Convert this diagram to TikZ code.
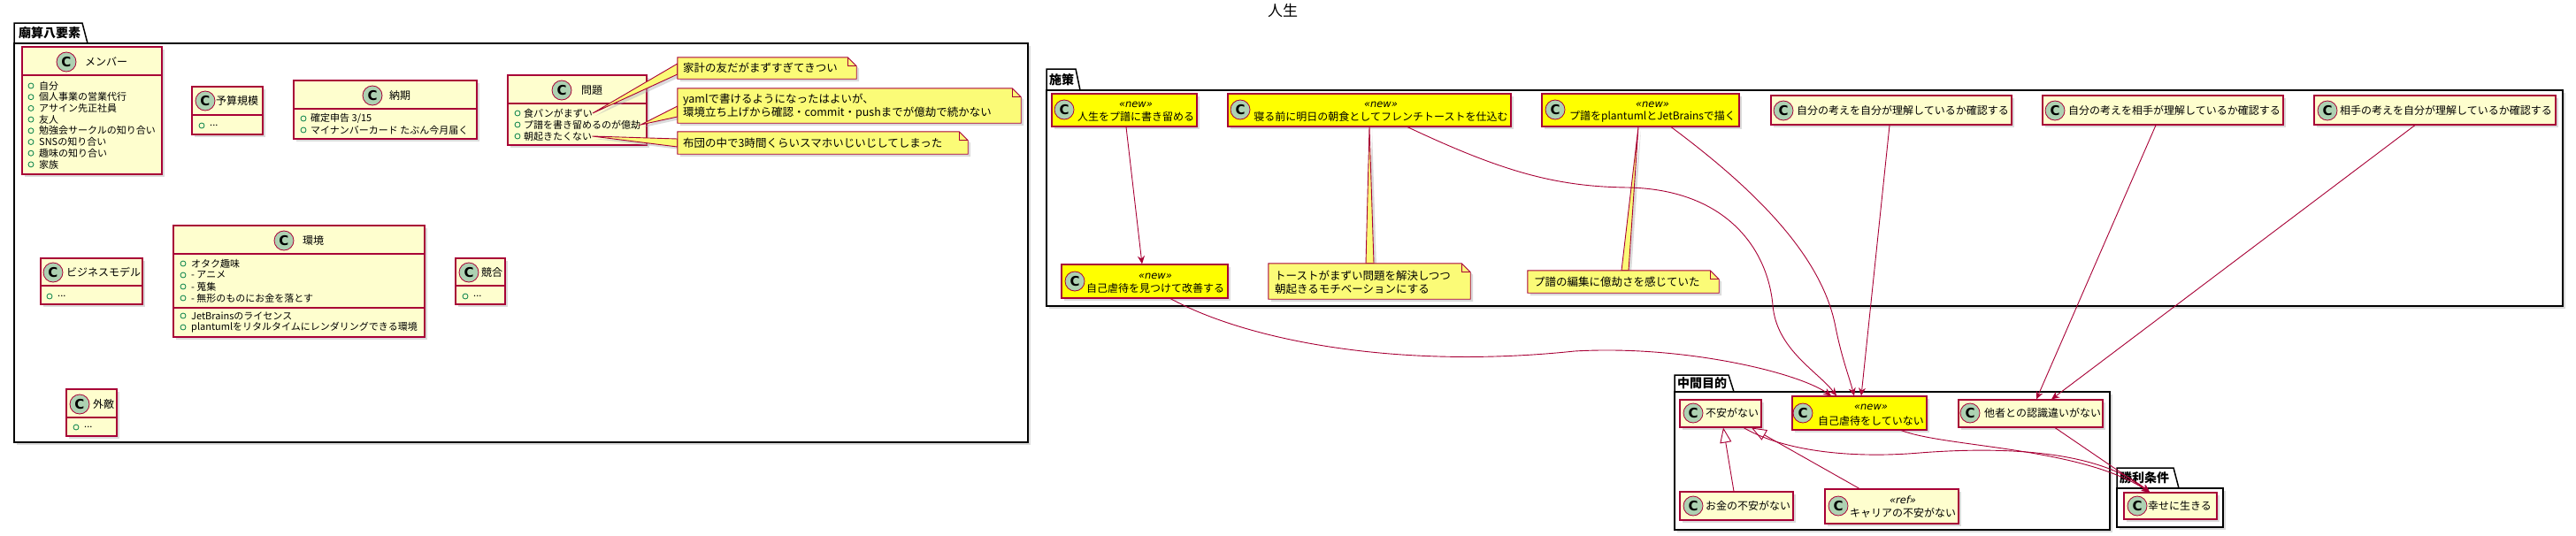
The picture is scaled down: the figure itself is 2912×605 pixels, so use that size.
\documentclass[tikz,border=0pt]{standalone}
\usepackage{fontspec}
\setmainfont{Noto Sans CJK JP}
\newfontfamily\glyphfont{DejaVu Sans}
\usetikzlibrary{arrows.meta,fit,shadows}
\definecolor{bdr}{HTML}{A80036}
\definecolor{clsfill}{HTML}{FEFECE}
\definecolor{cifill}{HTML}{ADD1B2}
\definecolor{notefill}{HTML}{FBFB77}
\definecolor{itemgreen}{HTML}{038048}
\definecolor{hl}{HTML}{FFFF00}
\tikzset{
  shad/.style={drop shadow={shadow xshift=3pt,shadow yshift=-3pt,fill=black!28}},
  cls/.style={draw=bdr,line width=1.1pt,fill=clsfill,inner sep=0pt,shad},
  hlcls/.style={cls,fill=hl},
  sep/.style={draw=bdr,line width=1.1pt},
  cicon/.style={circle,draw=bdr,fill=cifill,line width=0.8pt,minimum size=22pt,inner sep=0pt,font=\glyphfont\bfseries\fontsize{15}{15}\selectfont},
  cname/.style={anchor=west,inner sep=0pt,font=\fontsize{12}{12}\selectfont},
  cnamec/.style={inner sep=0pt,font=\fontsize{12}{12}\selectfont},
  ster/.style={inner sep=0pt,font=\glyphfont\itshape\fontsize{11.5}{11.5}\selectfont},
  itemtxt/.style={anchor=west,inner sep=0pt,font=\fontsize{11}{11}\selectfont},
  itemdot/.style={draw=itemgreen,line width=0.8pt},
  notetxt/.style={anchor=west,inner sep=0pt,align=left,font=\fontsize{12.5}{15}\selectfont},
  notebody/.style={draw=bdr,line width=0.9pt,fill=notefill},
  pkgbody/.style={draw=black,line width=1.5pt,fill=white,inner sep=0pt,shad},
  pkgtab/.style={draw=black,line width=1.5pt,fill=white},
  pkgtxt/.style={anchor=west,inner sep=0pt,font=\bfseries\fontsize{14}{14}\selectfont},
  arr/.style={draw=bdr,line width=0.9pt,-{Stealth[length=9pt,width=8pt,inset=3pt]}},
  gen/.style={draw=bdr,line width=0.9pt,-{Triangle[open,length=17pt,width=13pt,fill=white]}},
}
\newcommand\oneitem[5]{%
  \draw[itemdot] (#2,#4) circle[radius=3pt];
  \node[itemtxt] (#1) at (#3,#4) {#5};}
\newcommand\notenode[5]{\node[inner sep=0pt,fit={(#2,#3) (#4,#5)}] (#1) {};}
\newcommand\notedraw[1]{%
  \filldraw[notebody,shad] (#1.north west) -- ([xshift=-10pt]#1.north east) -- ([yshift=-10pt]#1.north east) -- (#1.south east) -- (#1.south west) -- cycle;
  \draw[notebody,fill=none] ([xshift=-10pt]#1.north east) -- ([xshift=-10pt,yshift=-10pt]#1.north east) -- ([yshift=-10pt]#1.north east);}
\begin{document}
\begin{tikzpicture}[x=1pt,y=-1pt]
\useasboundingbox (0,0) rectangle (2912,605);
\node[font=\fontsize{17}{17}\selectfont,inner sep=0pt] (title) at (1450,12) {人生};

% ---------- packages ----------
\filldraw[pkgtab] (16,49) -- (16,26) -- (93,26) -- (99,49);
\node[pkgbody,fit={(16,49) (1162,500)}] (pkgA) {};
\node[pkgtxt] (pkgA-l) at (21,37.5) {廟算八要素};

\filldraw[pkgtab] (1183,102) -- (1183,78) -- (1216,78) -- (1221,102);
\node[pkgbody,fit={(1183,102) (2897,346)}] (pkgB) {};
\node[pkgtxt] (pkgB-l) at (1186,90) {施策};

\filldraw[pkgtab] (1893,443) -- (1893,424) -- (1954,424) -- (1960,443);
\node[pkgbody,fit={(1893,443) (2385,599)}] (pkgC) {};
\node[pkgtxt] (pkgC-l) at (1896,433.5) {中間目的};

\filldraw[pkgtab] (2393,552) -- (2393,529) -- (2457,529) -- (2463,552);
\node[pkgbody,fit={(2393,552) (2513,596)}] (pkgD) {};
\node[pkgtxt] (pkgD-l) at (2396,540.5) {勝利条件};

% ---------- 廟算八要素 classes ----------
\node[cls,fit={(25,53) (183,197)}] (member) {};
\draw[sep] (25,85) -- (183,85);
\node[cicon] (member-c) at (75,70) {C};
\node[cname] (member-n) at (96,70) {メンバー};
\oneitem{member-0}{35}{44}{97}{自分}
\oneitem{member-1}{35}{44}{109.7}{個人事業の営業代行}
\oneitem{member-2}{35}{44}{122.4}{アサイン先正社員}
\oneitem{member-3}{35}{44}{135.1}{友人}
\oneitem{member-4}{35}{44}{147.8}{勉強会サークルの知り合い}
\oneitem{member-5}{35}{44}{160.5}{SNSの知り合い}
\oneitem{member-6}{35}{44}{173.2}{趣味の知り合い}
\oneitem{member-7}{35}{44}{185.9}{家族}

\node[cls,fit={(217,98) (297,152)}] (budget) {};
\draw[sep] (217,130) -- (297,130);
\node[cicon] (budget-c) at (232,114) {C};
\node[cname] (budget-n) at (244,114) {予算規模};
\oneitem{budget-0}{228}{237}{142}{...}

\node[cls,fit={(332,91) (539,157)}] (deliv) {};
\draw[sep] (332,123) -- (539,123);
\node[cicon] (deliv-c) at (421,108) {C};
\node[cname] (deliv-n) at (440,108) {納期};
\oneitem{deliv-0}{343}{351}{134}{確定申告 3/15}
\oneitem{deliv-1}{343}{351}{147}{マイナンバーカード たぶん今月届く}

\node[cls,fit={(574,85) (731,164)}] (prob) {};
\draw[sep] (574,117) -- (731,117);
\node[cicon] (prob-c) at (635,102) {C};
\node[cname] (prob-n) at (657,102) {問題};
\oneitem{prob-0}{585}{592}{128}{食パンがまずい}
\oneitem{prob-1}{585}{592}{141}{プ譜を書き留めるのが億劫}
\oneitem{prob-2}{585}{592}{154}{朝起きたくない}

\node[cls,fit={(46,292) (161,344)}] (biz) {};
\draw[sep] (46,323) -- (161,323);
\node[cicon] (biz-c) at (60,308) {C};
\node[cname] (biz-n) at (75,308) {ビジネスモデル};
\oneitem{biz-0}{56}{65}{335}{...}

\node[cls,fit={(196,255) (480,381)}] (env) {};
\draw[sep] (196,287) -- (480,287);
\draw[sep] (196,348) -- (480,348);
\node[cicon] (env-c) at (321,272) {C};
\node[cname] (env-n) at (342,272) {環境};
\oneitem{env-0}{207}{216}{298}{オタク趣味}
\oneitem{env-1}{207}{216}{311}{- アニメ}
\oneitem{env-2}{207}{216}{324}{- 蒐集}
\oneitem{env-3}{207}{216}{337}{- 無形のものにお金を落とす}
\oneitem{env-4}{207}{216}{357}{JetBrainsのライセンス}
\oneitem{env-5}{207}{216}{370}{plantumlをリタルタイムにレンダリングできる環境}

\node[cls,fit={(515,292) (571,344)}] (comp) {};
\draw[sep] (515,323) -- (571,323);
\node[cicon] (comp-c) at (530,308) {C};
\node[cname] (comp-n) at (544,308) {競合};
\oneitem{comp-0}{526}{535}{335}{...}

\node[cls,fit={(75,440) (132,493)}] (enemy) {};
\draw[sep] (75,472) -- (132,472);
\node[cicon] (enemy-c) at (90,457) {C};
\node[cname] (enemy-n) at (105,457) {外敵};
\oneitem{enemy-0}{86}{95}{483}{...}

% ---------- 施策 classes ----------
\node[hlcls,fit={(1189,106) (1353,143)}] (b1) {};
\node[cicon] (b1-c) at (1203,124) {C};
\node[ster] (b1-s) at (1284,118) {«new»};
\node[cnamec] (b1-n) at (1284,132) {人生をプ譜に書き留める};

\node[hlcls,fit={(1388,106) (1708,143)}] (b2) {};
\node[cicon] (b2-c) at (1402,124) {C};
\node[ster] (b2-s) at (1561,118) {«new»};
\node[cnamec] (b2-n) at (1561,132) {寝る前に明日の朝食としてフレンチトーストを仕込む};

\node[hlcls,fit={(1743,106) (1966,143)}] (b3) {};
\node[cicon] (b3-c) at (1758,124) {C};
\node[ster] (b3-s) at (1868,118) {«new»};
\node[cnamec] (b3-n) at (1868,132) {プ譜をplantumlとJetBrainsで描く};

\node[hlcls,fit={(1200,299) (1388,337)}] (b4) {};
\node[cicon] (b4-c) at (1215,318) {C};
\node[ster] (b4-s) at (1306,312) {«new»};
\node[cnamec] (b4-n) at (1306,326) {自己虐待を見つけて改善する};

\node[cls,fit={(2002,108) (2274,141)}] (c1) {};
\node[cicon] (c1-c) at (2016,125) {C};
\node[cname] (c1-n) at (2031,125) {自分の考えを自分が理解しているか確認する};

\node[cls,fit={(2309,108) (2581,141)}] (c2) {};
\node[cicon] (c2-c) at (2323,125) {C};
\node[cname] (c2-n) at (2338,125) {自分の考えを相手が理解しているか確認する};

\node[cls,fit={(2616,108) (2889,141)}] (c3) {};
\node[cicon] (c3-c) at (2631,125) {C};
\node[cname] (c3-n) at (2645,125) {相手の考えを自分が理解しているか確認する};

% ---------- 中間目的 classes ----------
\node[cls,fit={(1899,452) (1991,483)}] (d1) {};
\node[cicon] (d1-c) at (1914,467) {C};
\node[cname] (d1-n) at (1928,467) {不安がない};

\node[hlcls,fit={(2026,448) (2178,486)}] (d2) {};
\node[cicon] (d2-c) at (2038,467) {C};
\node[ster] (d2-s) at (2115,460) {«new»};
\node[cnamec] (d2-n) at (2115,476) {自己虐待をしていない};

\node[cls,fit={(2214,452) (2377,483)}] (d3) {};
\node[cicon] (d3-c) at (2227,467) {C};
\node[cname] (d3-n) at (2243,467) {他者との認識違いがない};

\node[cls,fit={(1899,556) (2027,588)}] (d4) {};
\node[cicon] (d4-c) at (1914,572) {C};
\node[cname] (d4-n) at (1928,572) {お金の不安がない};

\node[cls,fit={(2063,553) (2214,592)}] (d5) {};
\node[cicon] (d5-c) at (2078,572) {C};
\node[ster] (d5-s) at (2151,565) {«ref»};
\node[cnamec] (d5-n) at (2151,580) {キャリアの不安がない};

% ---------- 勝利条件 ----------
\node[cls,fit={(2401,557) (2506,587)}] (e1) {};
\node[cicon] (e1-c) at (2416,572) {C};
\node[cname] (e1-n) at (2428,572) {幸せに生きる};

% ---------- notes ----------
\notenode{n1}{766}{65}{968}{89}
\notenode{n2}{766}{100}{1154}{139}
\notenode{n3}{766}{149}{1094}{174}
\notenode{n4}{1434}{298}{1662}{338}
\notenode{n5}{1727}{306}{1943}{331}

\filldraw[notebody,shad] (prob-0.east) -- ([yshift=5pt]n1.west) -- ([yshift=-7pt]n1.west) -- cycle;
\filldraw[notebody,shad] (prob-1.east) -- ([yshift=-0.5pt]n2.west) -- ([yshift=-12.5pt]n2.west) -- cycle;
\filldraw[notebody,shad] (prob-2.east) -- ([yshift=4.5pt]n3.west) -- ([yshift=-4.5pt]n3.west) -- cycle;
\filldraw[notebody,shad] (b2.south) -- ([xshift=-4pt]n4.north) -- ([xshift=5pt]n4.north) -- cycle;
\filldraw[notebody,shad] ([xshift=-2.5pt]b3.south) -- ([xshift=-2pt]n5.north) -- ([xshift=6pt]n5.north) -- cycle;

\notedraw{n1}\notedraw{n2}\notedraw{n3}\notedraw{n4}\notedraw{n5}
\node[notetxt] (n1-t) at (772,77) {家計の友だがまずすぎてきつい};
\node[notetxt] (n2-t) at (772,120.5) {yamlで書けるようになったはよいが、\\環境立ち上げから確認・commit・pushまでが億劫で続かない};
\node[notetxt] (n3-t) at (772,161.5) {布団の中で3時間くらいスマホいじいじしてしまった};
\node[notetxt] (n4-t) at (1441,319) {トーストがまずい問題を解決しつつ\\朝起きるモチベーションにする};
\node[notetxt] (n5-t) at (1734,318.5) {プ譜の編集に億劫さを感じていた};

% ---------- edges ----------
\draw[arr] ([xshift=2pt]b1.south) -- ([xshift=-3pt]b4.north);
\draw[arr] ([xshift=29pt]b4.south) .. controls (1410,385) and (1580,418) .. (1780,397) .. controls (1900,390) and (2030,420) .. ([xshift=-32pt]d2.north);
\draw[arr] ([xshift=43pt]b2.south) .. controls (1700,195) and (1760,211) .. (1840,212) .. controls (1950,214) and (1998,280) .. (2004,345) .. controls (2008,395) and (2055,420) .. ([xshift=-26pt]d2.north);
\draw[arr] ([xshift=34.5pt]b3.south) .. controls (1985,215) and (2060,290) .. (2075,370) .. controls (2082,405) and (2090,425) .. ([xshift=-6pt]d2.north);
\draw[arr] ([xshift=-2pt]c1.south) -- ([xshift=2pt]d2.north);
\draw[arr] ([xshift=-8pt]c2.south) -- ([xshift=6.5pt]d3.north);
\draw[arr] ([xshift=-22.5pt]c3.south) -- ([xshift=23.5pt]d3.north);
\draw[gen] ([xshift=-3pt]d4.north) -- ([xshift=3pt]d1.south);
\draw[gen] ([xshift=-36.5pt]d5.north) -- ([xshift=35pt]d1.south);
\draw[arr] ([xshift=26pt]d1.south) .. controls (2020,512) and (2100,518) .. (2170,512) .. controls (2260,505) and (2370,508) .. ([xshift=-23.5pt]e1.north);
\draw[arr] ([xshift=47pt]d2.south) .. controls (2200,506) and (2350,505) .. ([xshift=-23.5pt]e1.north);
\draw[arr] ([xshift=27.5pt]d3.south) -- ([xshift=-23.5pt]e1.north);
\end{tikzpicture}
\end{document}
